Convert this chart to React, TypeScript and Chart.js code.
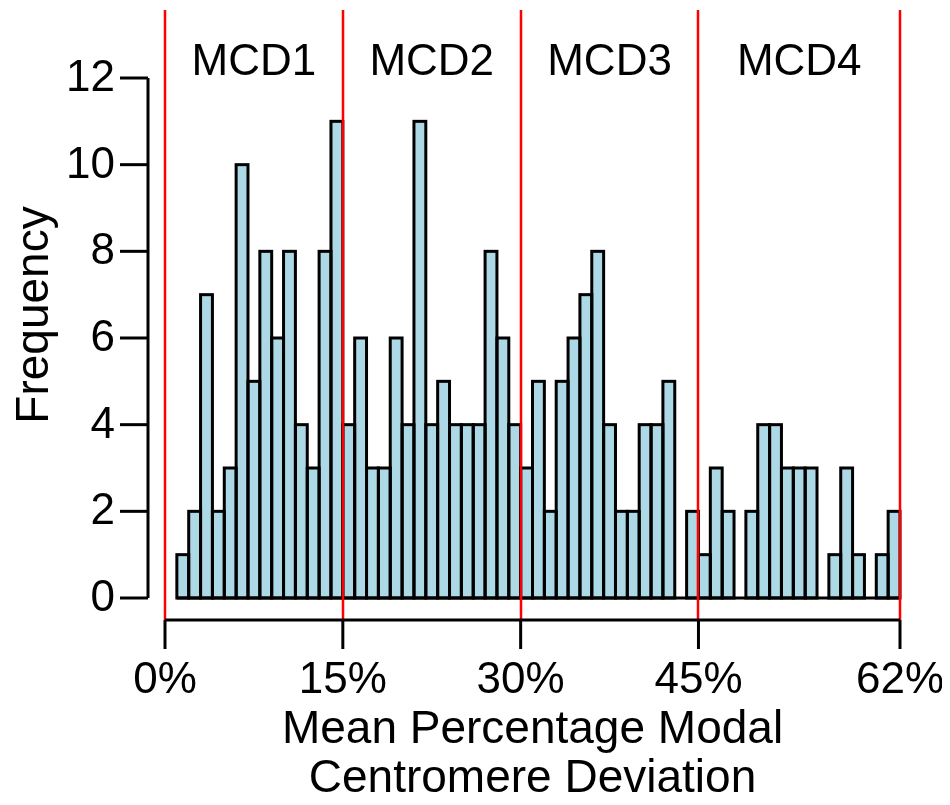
import React, { useEffect, useRef } from "react";
import { Chart, registerables } from "chart.js";

Chart.register(...registerables);

// Histogram bins: 1% wide, from 1% to 62%
const binStarts: number[] = Array.from({ length: 61 }, (_, i) => i + 1);
const frequencies: number[] = [
  1, 2, 7, 2, 3, 10, 5, 8, 6, 8, 4, 3, 8, 11,
  4, 6, 3, 3, 6, 4, 11, 4, 5, 4, 4, 4, 8, 6, 4,
  3, 5, 2, 5, 6, 7, 8, 4, 2, 2, 4, 4, 5, 0, 2, 1,
  3, 2, 0, 2, 4, 4, 3, 3, 3, 0, 1, 3, 1, 0, 1, 2,
];
const yTicks: number[] = [0, 2, 4, 6, 8, 10, 12];
const xTicks: number[] = [0, 15, 30, 45, 62];
const xTickLabels: string[] = ["0%", "15%", "30%", "45%", "62%"];
const groupBreaks: number[] = [0, 15, 30, 45, 62];
const groupLabels: string[] = ["MCD1", "MCD2", "MCD3", "MCD4"];
const xTitleLines: string[] = ["Mean Percentage Modal", "Centromere Deviation"];
const yTitle = "Frequency";

const FONT = '"Liberation Sans", Arial, Helvetica, sans-serif';

const overlayPlugin = {
  id: "rStyleOverlay",
  afterDatasetsDraw(chart: any) {
    const ctx = chart.ctx as CanvasRenderingContext2D;
    const xs = chart.scales.x;
    const ys = chart.scales.y;
    const meta = chart.getDatasetMeta(0);
    ctx.save();
    // bar outlines (centered strokes, like R's rect)
    ctx.strokeStyle = "#000";
    ctx.lineWidth = 3;
    ctx.lineJoin = "miter";
    meta.data.forEach((bar: any, i: number) => {
      if (frequencies[i] <= 0) return;
      const p = bar.getProps(["x", "y", "base", "width"], true);
      ctx.strokeRect(p.x - p.width / 2, p.y, p.width, p.base - p.y);
    });
    // baseline for empty bins
    const y0 = ys.getPixelForValue(0);
    ctx.beginPath();
    ctx.moveTo(xs.getPixelForValue(binStarts[0]), y0);
    ctx.lineTo(xs.getPixelForValue(binStarts[binStarts.length - 1] + 1), y0);
    ctx.stroke();

    const area = chart.chartArea;
    const redTop = area.top - 68;
    const axisY = y0 + 22;
    // red group lines
    ctx.strokeStyle = "#ff0000";
    ctx.lineWidth = 2.5;
    groupBreaks.forEach((v) => {
      const px = Math.round(xs.getPixelForValue(v));
      ctx.beginPath();
      ctx.moveTo(px, redTop);
      ctx.lineTo(px, axisY);
      ctx.stroke();
    });

    // group labels
    ctx.fillStyle = "#000";
    ctx.font = `44px ${FONT}`;
    ctx.textAlign = "center";
    ctx.textBaseline = "alphabetic";
    groupLabels.forEach((lab, i) => {
      const cx = (xs.getPixelForValue(groupBreaks[i]) + xs.getPixelForValue(groupBreaks[i + 1])) / 2;
      ctx.fillText(lab, cx, area.top - 3);
    });

    // y axis
    ctx.strokeStyle = "#000";
    ctx.lineWidth = 3;
    const axisX = area.left - 17;
    ctx.beginPath();
    ctx.moveTo(axisX, ys.getPixelForValue(yTicks[yTicks.length - 1]));
    ctx.lineTo(axisX, ys.getPixelForValue(yTicks[0]));
    ctx.stroke();
    ctx.textAlign = "right";
    ctx.textBaseline = "middle";
    yTicks.forEach((t) => {
      const py = ys.getPixelForValue(t);
      ctx.beginPath();
      ctx.moveTo(axisX, py);
      ctx.lineTo(axisX - 28, py);
      ctx.stroke();
      ctx.fillText(String(t), axisX - 33, py + 1);
    });

    // x axis
    ctx.beginPath();
    ctx.moveTo(xs.getPixelForValue(xTicks[0]), axisY);
    ctx.lineTo(xs.getPixelForValue(xTicks[xTicks.length - 1]), axisY);
    ctx.stroke();
    ctx.textAlign = "center";
    ctx.textBaseline = "alphabetic";
    xTicks.forEach((t, i) => {
      const px = xs.getPixelForValue(t);
      ctx.beginPath();
      ctx.moveTo(px, axisY);
      ctx.lineTo(px, axisY + 29);
      ctx.stroke();
      ctx.fillText(xTickLabels[i], px, axisY + 73);
    });

    // x title
    ctx.font = `46px ${FONT}`;
    const cxTitle = (xs.getPixelForValue(xTicks[0]) + xs.getPixelForValue(xTicks[xTicks.length - 1])) / 2;
    ctx.fillText(xTitleLines[0], cxTitle, axisY + 123);
    ctx.fillText(xTitleLines[1], cxTitle, axisY + 172);

    // y title
    ctx.save();
    const cyTitle = (redTop + axisY) / 2;
    ctx.translate(area.left - 117, cyTitle);
    ctx.rotate(-Math.PI / 2);
    ctx.textAlign = "center";
    ctx.textBaseline = "alphabetic";
    ctx.fillText(yTitle, 0, 0);
    ctx.restore();

    ctx.restore();
  },
};

export default function App() {
  const ref = useRef<HTMLCanvasElement | null>(null);
  useEffect(() => {
    if (!ref.current) return;
    const chart = new Chart(ref.current, {
      type: "bar",
      data: {
        datasets: [
          {
            data: binStarts.map((s, i) => ({ x: s + 0.5, y: frequencies[i] })),
            backgroundColor: "#add8e6",
            borderWidth: 0,
            barPercentage: 1,
            categoryPercentage: 1,
          },
        ],
      },
      options: {
        responsive: false,
        animation: false,
        layout: { padding: { left: 157, right: 42, top: 70, bottom: 199 } },
        plugins: { legend: { display: false }, tooltip: { enabled: false } },
        scales: {
          x: { type: "linear", min: 0, max: 62, display: false, offset: false },
          y: { type: "linear", min: 0, max: 12, display: false },
        },
      },
      plugins: [overlayPlugin],
    });
    return () => chart.destroy();
  }, []);
  return <canvas ref={ref} width={934} height={789} style={{ display: "block" }} />;
}
